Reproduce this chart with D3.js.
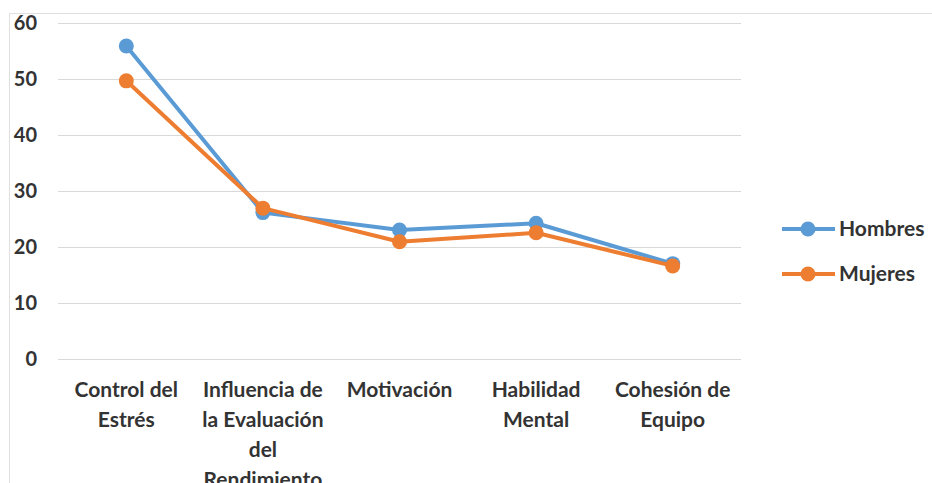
<!DOCTYPE html>
<html>
<head>
<meta charset="utf-8">
<script src="https://cdn.jsdelivr.net/npm/d3@7"></script>
<style>
  body { margin: 0; background: #fff; }
  svg text { font-family: Lato, "Open Sans", sans-serif; fill: #333; }
</style>
</head>
<body>
<svg id="chart" width="932" height="483"></svg>
<script>
const categories = [
    ['Control del', 'Estrés'],
    ['Influencia de', 'la Evaluación', 'del', 'Rendimiento'],
    ['Motivación'],
    ['Habilidad', 'Mental'],
    ['Cohesión de', 'Equipo']
];
const hombres = [55.8, 26.1, 23.0, 24.2, 17.0];
const mujeres = [49.6, 26.9, 20.9, 22.5, 16.6];
const yTicks = [0, 10, 20, 30, 40, 50, 60];
const seriesNames = ['Hombres', 'Mujeres'];
const seriesColors = ['#5b9bd5', '#ed7d31'];

const svg = d3.select('#chart');

// frame of the chart area
svg.append('path')
    .attr('d', 'M 9.5 483 L 9.5 13.5 L 932 13.5')
    .attr('fill', 'none')
    .attr('stroke', '#e0e0e0');

const x = d3.scaleBand()
    .domain(d3.range(categories.length))
    .range([58, 741]);

const y = d3.scaleLinear()
    .domain([0, 60])
    .range([359, 22.5]);

// grid
svg.append('g')
    .selectAll('line')
    .data(yTicks)
    .join('line')
    .attr('x1', 58)
    .attr('x2', 741)
    .attr('y1', d => Math.round(y(d)) + 0.5)
    .attr('y2', d => Math.round(y(d)) + 0.5)
    .attr('stroke', '#d9d9d9')
    .attr('stroke-width', 1.2);

// y labels
svg.append('g')
    .selectAll('text')
    .data(yTicks)
    .join('text')
    .attr('x', 37)
    .attr('y', d => y(d))
    .attr('dy', '0.35em')
    .attr('text-anchor', 'end')
    .style('font-size', '20px')
    .style('font-weight', 'bold')
    .text(d => d);

// x labels
const xl = svg.append('g')
    .selectAll('text')
    .data(categories)
    .join('text')
    .attr('x', (d, i) => x(i) + x.bandwidth() / 2)
    .attr('y', 397)
    .attr('text-anchor', 'middle')
    .style('font-size', '21px')
    .style('font-weight', 'bold');

xl.selectAll('tspan')
    .data(d => d)
    .join('tspan')
    .attr('x', function () { return d3.select(this.parentNode).attr('x'); })
    .attr('dy', (d, i) => i == 0 ? 0 : 30)
    .text(d => d);

const line = d3.line()
    .x((d, i) => x(i) + x.bandwidth() / 2)
    .y(d => y(d));

[hombres, mujeres].forEach((values, k) => {
    const g = svg.append('g');
    g.append('path')
        .attr('d', line(values))
        .attr('fill', 'none')
        .attr('stroke', seriesColors[k])
        .attr('stroke-width', 4)
        .attr('stroke-linejoin', 'round');
    g.selectAll('circle')
        .data(values)
        .join('circle')
        .attr('cx', (d, i) => x(i) + x.bandwidth() / 2)
        .attr('cy', d => y(d))
        .attr('r', 7.5)
        .attr('fill', seriesColors[k]);
});

// legend
const legend = svg.append('g')
    .selectAll('g')
    .data(seriesNames)
    .join('g')
    .attr('transform', (d, i) => `translate(782, ${229 + i * 45})`);

legend.append('line')
    .attr('x1', 0)
    .attr('x2', 53)
    .attr('stroke', (d, i) => seriesColors[i])
    .attr('stroke-width', 4);

legend.append('circle')
    .attr('cx', 26)
    .attr('r', 7.5)
    .attr('fill', (d, i) => seriesColors[i]);

legend.append('text')
    .attr('x', 57)
    .attr('dy', '0.35em')
    .style('font-size', '21px')
    .style('font-weight', 'bold')
    .text(d => d);
</script>
</body>
</html>
